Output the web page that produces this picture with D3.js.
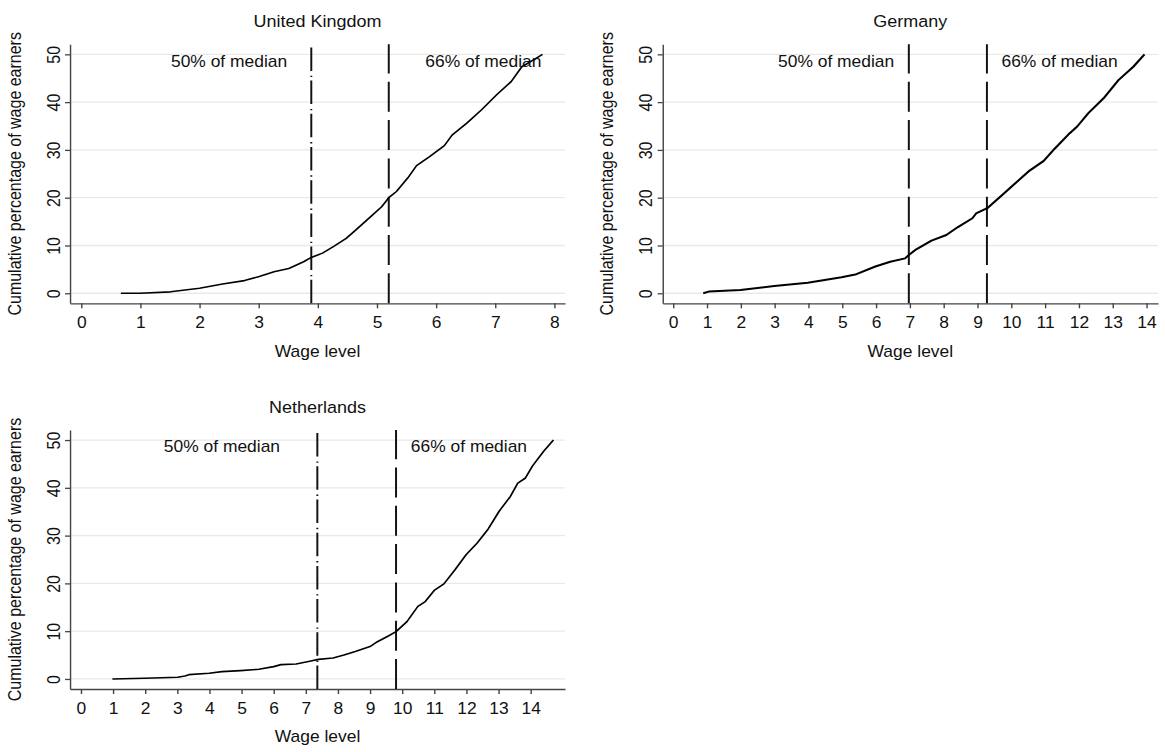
<!DOCTYPE html>
<html lang="en">
<head>
<meta charset="utf-8">
<title>Cumulative percentage of wage earners</title>
<script src="https://d3js.org/d3.v7.min.js"></script>
<style>
  body { margin: 0; background: #fff; }
  #chart { display: block; }
  text { font-family: "Liberation Sans", Arial, sans-serif; fill: #111; font-size: 16px; }
  .grid line { stroke: #e9e9e9; stroke-width: 1.3; }
  .axis path, .axis line { stroke: #444; stroke-width: 1.3; }
  .axis text { font-size: 16px; fill: #111; }
  .curve { fill: none; stroke: #000; stroke-linejoin: round; }
  .ref { stroke: #111; stroke-width: 1.8; }
</style>
</head>
<body>
<svg id="chart"></svg>
<script>
// United Kingdom
var ukWage = [0.67, 1.0, 1.51, 2.0, 2.39, 2.76, 3.01, 3.26, 3.51, 3.76, 3.89, 4.08, 4.27, 4.48, 4.64, 4.89, 5.08, 5.2, 5.33, 5.52, 5.67, 5.89, 6.14, 6.27, 6.52, 6.77, 7.02, 7.27, 7.45, 7.64, 7.8];
var ukCum  = [0, 0, 0.3, 1.05, 1.95, 2.65, 3.5, 4.5, 5.2, 6.6, 7.5, 8.4, 9.8, 11.5, 13.2, 16.0, 18.1, 20.0, 21.3, 24.1, 26.7, 28.6, 30.9, 33.1, 35.6, 38.4, 41.5, 44.3, 47.4, 48.8, 50];
var ukRef = [3.89, 5.2];

// Germany
var deWage = [0.89, 1.05, 1.99, 2.99, 3.98, 4.98, 5.42, 5.98, 6.42, 6.86, 6.97, 7.19, 7.64, 8.08, 8.41, 8.85, 8.96, 9.29, 9.74, 10.07, 10.51, 10.96, 11.29, 11.73, 11.95, 12.28, 12.73, 13.17, 13.61, 13.94];
var deCum  = [0, 0.35, 0.7, 1.5, 2.2, 3.35, 4.0, 5.6, 6.6, 7.3, 8.0, 9.2, 11.0, 12.2, 13.8, 15.7, 16.7, 17.8, 20.6, 22.7, 25.5, 27.7, 30.3, 33.5, 34.9, 37.7, 40.8, 44.6, 47.4, 50];
var deRef = [6.97, 9.28];

// Netherlands
var nlWage = [0.98, 1.98, 3.01, 3.24, 3.36, 3.99, 4.39, 4.97, 5.54, 6.0, 6.23, 6.7, 7.16, 7.39, 7.85, 8.19, 8.54, 9.0, 9.23, 9.57, 9.81, 10.15, 10.49, 10.72, 11.01, 11.3, 11.64, 11.99, 12.33, 12.68, 13.02, 13.37, 13.6, 13.83, 14.06, 14.4, 14.71];
var nlCum  = [0, 0.14, 0.35, 0.63, 0.9, 1.19, 1.54, 1.75, 2.03, 2.58, 3.0, 3.14, 3.77, 4.1, 4.4, 5.0, 5.73, 6.77, 7.8, 9.0, 9.9, 12.0, 15.2, 16.2, 18.6, 19.9, 22.8, 26.0, 28.4, 31.4, 35.1, 38.2, 41.0, 42.0, 44.6, 47.6, 50];
var nlRef = [7.36, 9.81];

var refLabels = ["50% of median", "66% of median"];
var yTicks = [0, 10, 20, 30, 40, 50];
var ukTicks = d3.range(0, 9);
var deTicks = d3.range(0, 15);
var nlTicks = d3.range(0, 15);

var width = 1165, height = 752;
var SX = 1.09; // the picture is a little wider than tall, text included

var dashes = {
    dash: "30,8.3",
    dashdot: "23.5,3.5,1.4,4.8"
};

var panels = [
    { title: "United Kingdom", wage: ukWage, cum: ukCum, ref: ukRef, ticks: ukTicks,
      styles: ["dashdot", "dash"], labelX: [2.5, 6.8], xDomain: [-0.19, 8.18],
      box: [70, 44.3, 565, 303.3], lw: 1.6 },
    { title: "Germany", wage: deWage, cum: deCum, ref: deRef, ticks: deTicks,
      styles: ["dash", "dash"], labelX: [4.82, 11.43], xDomain: [-0.31, 14.34],
      box: [662.7, 44.3, 1158, 303.3], lw: 2.0 },
    { title: "Netherlands", wage: nlWage, cum: nlCum, ref: nlRef, ticks: nlTicks,
      styles: ["dashdot", "dash"], labelX: [4.39, 12.08], xDomain: [-0.34, 15.07],
      box: [70, 430, 565, 689], lw: 1.6 }
];

var svg = d3.select("#chart")
    .attr("width", width)
    .attr("height", height);

var root = svg.append("g")
    .attr("transform", "scale(" + SX + ",1)");

panels.forEach(function(p) {
    var left = p.box[0] / SX, right = p.box[2] / SX;
    var top = p.box[1], bottom = p.box[3];

    var x = d3.scaleLinear().domain(p.xDomain).range([left, right]);
    var y = d3.scaleLinear().domain([-2.1, 52.1]).range([bottom, top]);

    var g = root.append("g");

    // grid
    g.append("g").attr("class", "grid")
        .selectAll("line")
        .data(yTicks)
        .enter().append("line")
        .attr("x1", left).attr("x2", right)
        .attr("y1", function(d) { return y(d); })
        .attr("y2", function(d) { return y(d); });

    // x axis
    g.append("g").attr("class", "axis")
        .attr("transform", "translate(0," + bottom + ")")
        .call(d3.axisBottom(x).tickValues(p.ticks).tickSize(5).tickPadding(8.2).tickSizeOuter(0));

    // y axis, labels turned on their side
    g.append("g").attr("class", "axis")
        .attr("transform", "translate(" + left + ",0)")
        .call(d3.axisLeft(y).tickValues(yTicks).tickSize(5 / SX).tickSizeOuter(0))
        .selectAll(".tick text")
        .attr("x", 0)
        .attr("dy", 0)
        .attr("text-anchor", "middle")
        .attr("transform", "translate(" + (-10.5 / SX) + ",0) rotate(-90)");

    // reference lines
    g.selectAll(".ref")
        .data(p.ref)
        .enter().append("line")
        .attr("class", "ref")
        .attr("x1", function(d) { return x(d); })
        .attr("x2", function(d) { return x(d); })
        .attr("y1", bottom)
        .attr("y2", top)
        .attr("stroke-dasharray", function(d, i) { return dashes[p.styles[i]]; });

    g.selectAll(".reflabel")
        .data(refLabels)
        .enter().append("text")
        .attr("x", function(d, i) { return x(p.labelX[i]); })
        .attr("y", y(47.4))
        .attr("text-anchor", "middle")
        .text(function(d) { return d; });

    // curve
    var line = d3.line()
        .x(function(d) { return x(d[0]); })
        .y(function(d) { return y(d[1]); });

    g.append("path")
        .datum(d3.zip(p.wage, p.cum))
        .attr("class", "curve")
        .attr("stroke-width", p.lw)
        .attr("d", line);

    // titles
    g.append("text")
        .attr("x", (left + right) / 2)
        .attr("y", top - 17.3)
        .attr("text-anchor", "middle")
        .style("font-size", "16.5px")
        .text(p.title);

    g.append("text")
        .attr("x", (left + right) / 2)
        .attr("y", bottom + 53.5)
        .attr("text-anchor", "middle")
        .text("Wage level");

    g.append("text")
        .attr("transform", "translate(" + (left - 49.3 / SX) + "," + ((top + bottom) / 2) + ") rotate(-90)")
        .attr("text-anchor", "middle")
        .text("Cumulative percentage of wage earners");
});
</script>
</body>
</html>
